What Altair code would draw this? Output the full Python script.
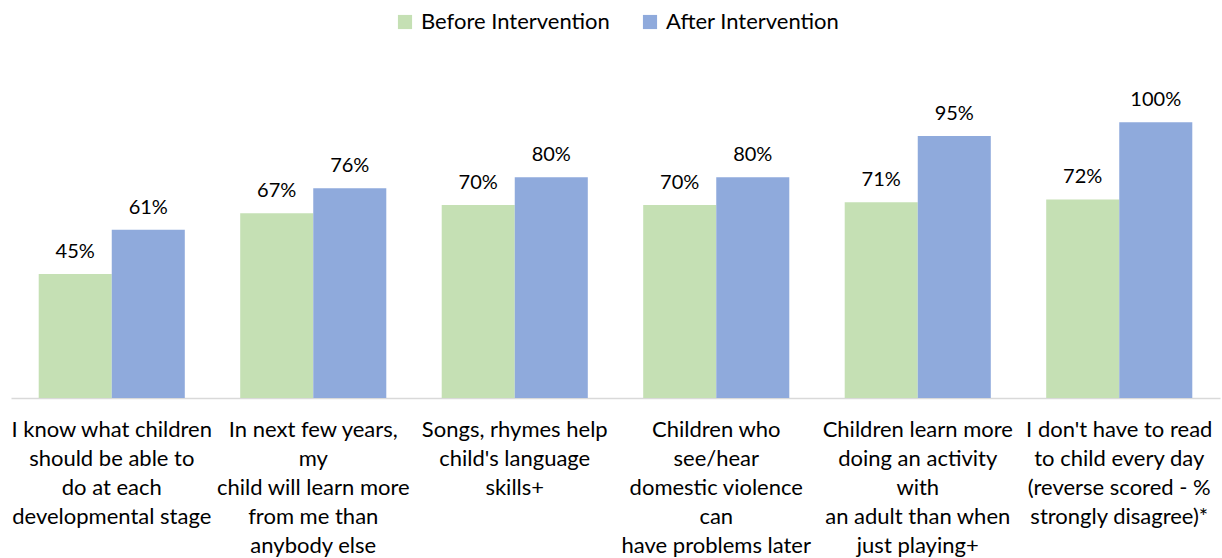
import altair as alt
import pandas as pd

# Survey items (axis labels use "|" as line breaks)
categories = [
    "I know what children|should be able to|do at each|developmental stage",
    "In next few years,|my|child will learn more|from me than|anybody else",
    "Songs, rhymes help|child's language|skills+",
    "Children who|see/hear|domestic violence|can|have problems later",
    "Children learn more|doing an activity|with|an adult than when|just playing+",
    "I don't have to read|to child every day|(reverse scored - %|strongly disagree)*",
]
series = ["Before Intervention", "After Intervention"]
before = [45, 67, 70, 70, 71, 72]
after = [61, 76, 80, 80, 95, 100]
colors = ["#C5E0B4", "#8FAADC"]

rows = []
for cat, b, a in zip(categories, before, after):
    rows.append({"item": cat, "group": series[0], "pct": b, "label": f"{b}%"})
    rows.append({"item": cat, "group": series[1], "pct": a, "label": f"{a}%"})
df = pd.DataFrame(rows)

FONT = "Lato"

x = alt.X(
    "item:N",
    sort=categories,
    scale=alt.Scale(paddingInner=0.275, paddingOuter=0.1375),
    axis=alt.Axis(
        title=None,
        labelExpr="split(datum.label, '|')",
        labelAngle=0,
        labelFont=FONT,
        labelFontSize=22,
        labelColor="#000000",
        labelLineHeight=29,
        labelBaseline="top",
        labelPadding=21,
        labelLimit=0,
        ticks=False,
        domainColor="#D9D9D9",
        domainWidth=1.5,
    ),
)
y = alt.Y("pct:Q", scale=alt.Scale(domain=[0, 120], nice=False), axis=None)
off = alt.XOffset("group:N", sort=series, scale=alt.Scale(paddingInner=0, paddingOuter=0))

bars = alt.Chart(df).mark_bar().encode(
    x=x,
    xOffset=off,
    y=y,
    color=alt.Color(
        "group:N",
        sort=series,
        scale=alt.Scale(domain=series, range=colors),
        legend=alt.Legend(
            title=None,
            orient="none",
            direction="horizontal",
            legendX=383,
            legendY=-56,
            symbolType="square",
            symbolSize=200,
            symbolStrokeWidth=0,
            labelFont=FONT,
            labelFontSize=22,
            labelColor="#000000",
            labelOffset=5,
            labelLimit=0,
            columnPadding=29,
        ),
    ),
)

text = alt.Chart(df).mark_text(
    baseline="bottom", dy=-12, font=FONT, fontSize=20, color="#000000"
).encode(x=x, xOffset=off, y=y, text="label:N")

chart = (
    alt.layer(bars, text)
    .properties(
        width=1209,
        height=331,
        background="#ffffff",
        padding={"left": 11, "top": 67, "right": 2, "bottom": 160},
        autosize=alt.AutoSizeParams(type="none"),
    )
    .configure_view(strokeWidth=0, stroke="transparent")
)

chart.save("out.html", embed_options={"renderer": "svg", "actions": False})
